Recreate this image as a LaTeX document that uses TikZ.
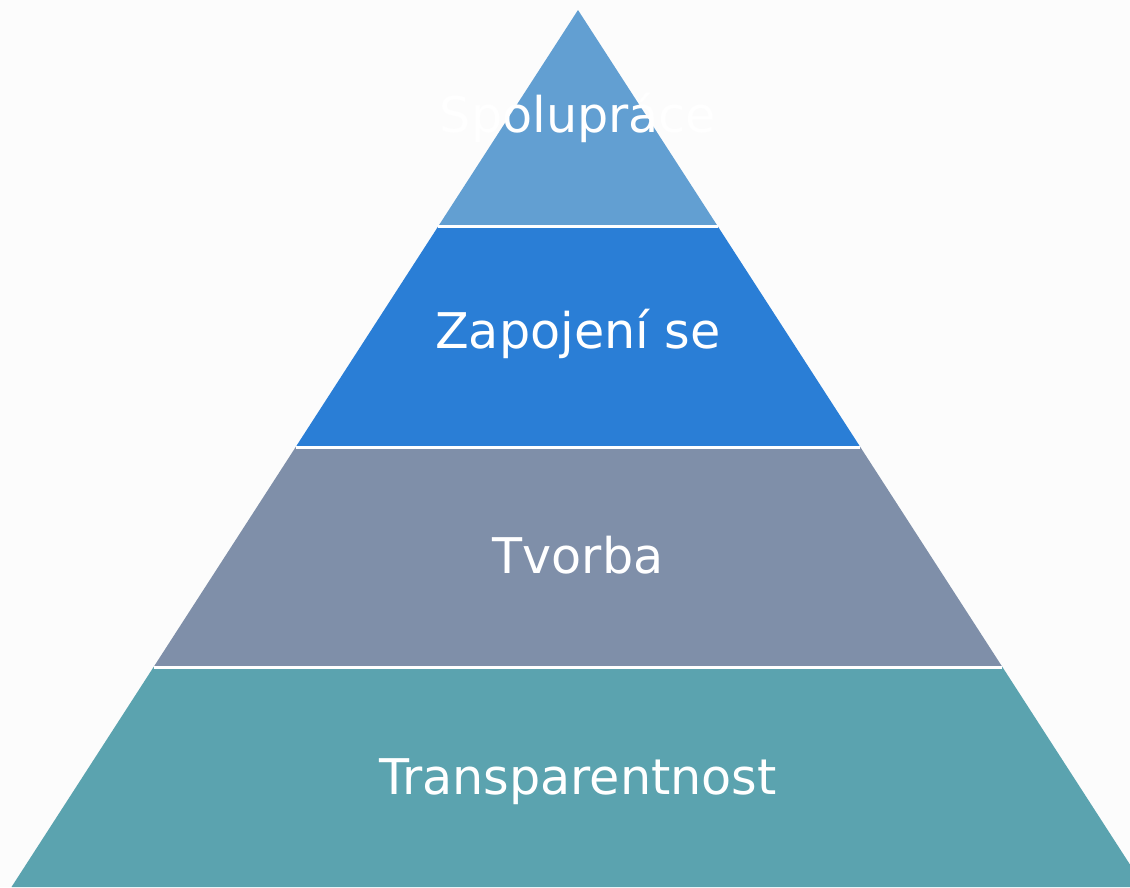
\documentclass[tikz,border=0pt]{standalone}
\usepackage{fontspec}
\setmainfont{DejaVu Sans}
\definecolor{spolc}{HTML}{629FD2}
\definecolor{zapc}{HTML}{2A7ED6}
\definecolor{tvorc}{HTML}{7F8FA9}
\definecolor{transc}{HTML}{5BA3AF}

\begin{document}
\begin{tikzpicture}[x=0.02cm,y=-0.02cm,
    lbl/.style={text=white,font=\fontsize{28}{34}\selectfont,anchor=base,inner sep=0pt}]
            \useasboundingbox (0,0) rectangle (1130,887);
            \clip (0,0) rectangle (1130,887);
            \fill[black!1] (0,0) rectangle (1130,887);
            \fill[spolc] (578,10) -- (717.9,226.5) -- (438.1,226.5) -- cycle;
            \fill[zapc] (438.1,226.5) -- (717.9,226.5) -- (860.3,447) -- (295.7,447) -- cycle;
            \fill[tvorc] (295.7,447) -- (860.3,447) -- (1002.4,667) -- (153.6,667) -- cycle;
            \fill[transc] (153.6,667) -- (1002.4,667) -- (1144.5,887) -- (11.5,887) -- cycle;
            \draw[white,line width=1.7pt]
            (438.1,226.5) -- (717.9,226.5)
            (295.7,447) -- (860.3,447)
            (153.6,667) -- (1002.4,667)
            ;
            \node[lbl] (spoluprace) at (578,132) {Spolupráce};
            \node[lbl] (zapojeni) at (578,348) {Zapojení se};
            \node[lbl] (tvorba) at (578,573) {Tvorba};
            \node[lbl] (transparentnost) at (578,794) {Transparentnost};
        \end{tikzpicture}
\end{document}
